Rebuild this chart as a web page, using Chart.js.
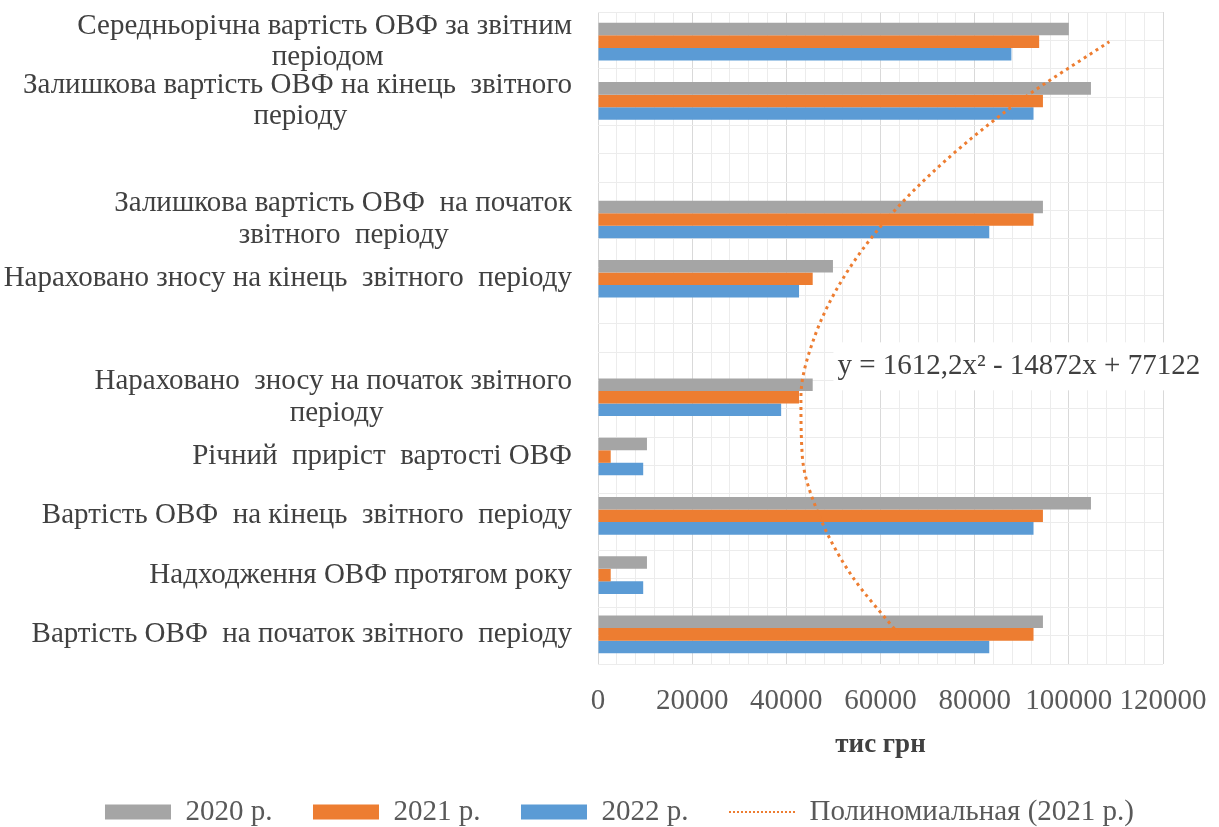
<!DOCTYPE html>
<html>
<head>
<meta charset="utf-8">
<script src="https://cdn.jsdelivr.net/npm/chart.js@4.4.1/dist/chart.umd.min.js"></script>
<style>
    html, body { margin: 0; padding: 0; background: #fff; }
    #wrap { width: 1219px; height: 827px; }
</style>
</head>
<body>
<div id="wrap"><canvas id="bar"></canvas></div>
<script>
// categories bottom-to-top, as in the Excel bar chart
const categories = [
    "Вартість ОВФ  на початок звітного  періоду",
    "Надходження ОВФ протягом року",
    "Вартість ОВФ  на кінець  звітного  періоду",
    "Річний  приріст  вартості ОВФ",
    ["Нараховано  зносу на початок звітного", "періоду"],
    "",
    "Нараховано зносу на кінець  звітного  періоду",
    ["Залишкова вартість ОВФ  на початок", "звітного  періоду"],
    "",
    ["Залишкова вартість ОВФ на кінець  звітного", "періоду"],
    ["Середньорічна вартість ОВФ за звітним", "періодом"],
];
const values2020 = [94500, 10400, 104700, 10400, 45600, null, 49900, 94500, null, 104700, 100000];
const values2021 = [92500, 2700, 94500, 2700, 42700, null, 45600, 92500, null, 94500, 93700];
const values2022 = [83100, 9600, 92500, 9600, 38900, null, 42700, 83100, null, 92500, 87800];
// polynomial trendline of 2021, read at each category
const trend2021 = [63900, 53800, 47000, 43400, 43100, 45900, 52000, 61300, 73900, 89600, 108600];
const seriesNames = ["2020 р.", "2021 р.", "2022 р.", "Полиномиальная (2021 р.)"];
const equation = "y = 1612,2x² - 14872x + 77122";
const xTicks = [0, 20000, 40000, 60000, 80000, 100000, 120000];

const FAMILY = "'Liberation Serif', 'Times New Roman', serif";
const SIZE = 29;

// second line of a two-line label is centred under the first one
const measure = document.createElement("canvas").getContext("2d");
measure.font = SIZE + "px " + FAMILY;
function centred(label) {
    if (!Array.isArray(label)) return label;
    const w0 = measure.measureText(label[0]).width;
    const w1 = measure.measureText(label[1]).width;
    const target = w1 + (w0 - w1) / 2;
    let second = label[1];
    while (measure.measureText(second + " ").width <= target) second += " ";
    return [label[0], second];
}

const equationLabel = {
    id: "equationLabel",
    afterDatasetsDraw(chart) {
        const { ctx } = chart;
        const x = chart.scales.x.getPixelForValue(50000);
        const y = chart.scales.yMinor.getPixelForValue(5.5);
        ctx.save();
        ctx.fillStyle = "#ffffff";
        ctx.fillRect(x, y - 24, 380, 48);
        ctx.font = SIZE + "px " + FAMILY;
        ctx.fillStyle = "#404040";
        ctx.textBaseline = "middle";
        ctx.textAlign = "left";
        ctx.fillText(equation, x + 4, y);
        ctx.restore();
    },
};

const bar = document.getElementById("bar");
const barConfig = new Chart(bar, {
    type: "bar",
    data: {
        labels: categories,
        datasets: [
            {
                label: seriesNames[0],
                data: values2020,
                backgroundColor: "#a5a5a5",
                borderWidth: 0,
                pointStyle: "rect",
                order: 1,
            },
            {
                label: seriesNames[1],
                data: values2021,
                backgroundColor: "#ed7d31",
                borderWidth: 0,
                pointStyle: "rect",
                order: 1,
            },
            {
                label: seriesNames[2],
                data: values2022,
                backgroundColor: "#5b9bd5",
                borderWidth: 0,
                pointStyle: "rect",
                order: 1,
            },
            {
                label: seriesNames[3],
                type: "line",
                indexAxis: "y",
                data: trend2021,
                borderColor: "#ed7d31",
                backgroundColor: "#ed7d31",
                borderWidth: 3,
                borderDash: [3, 4],
                cubicInterpolationMode: "monotone",
                pointRadius: 0,
                pointStyle: "line",
                fill: false,
                order: 0,
            },
        ],
    },
    options: {
        indexAxis: "y",
        responsive: true,
        maintainAspectRatio: false,
        animation: false,
        barPercentage: 1,
        categoryPercentage: 0.635,
        layout: {
            padding: { left: 0, right: -20, top: 12, bottom: -9.5 },
        },
        scales: {
            x: {
                type: "linear",
                min: 0,
                max: 120000,
                ticks: {
                    stepSize: 4000,
                    autoSkip: false,
                    maxRotation: 0,
                    padding: 20,
                    color: "#595959",
                    font: { family: FAMILY, size: SIZE },
                    callback: (v) => (xTicks.includes(v) ? String(v) : ""),
                },
                grid: {
                    color: (c) => (c.tick && xTicks.includes(c.tick.value) ? "#d9d9d9" : "#ececec"),
                    drawTicks: false,
                },
                border: { display: false },
                title: {
                    display: true,
                    text: "тис грн",
                    color: "#404040",
                    font: { family: FAMILY, size: 27, weight: "bold" },
                    padding: { top: 0, bottom: -4 },
                },
                afterFit: (s) => {
                    s.height = 93;
                    s.paddingLeft = 0;
                    s.paddingRight = 0;
                },
            },
            y: {
                type: "category",
                reverse: true,
                grid: { display: false },
                border: { display: false },
                ticks: {
                    padding: 18,
                    autoSkip: false,
                    color: "#404040",
                    font: { family: FAMILY, size: SIZE, lineHeight: 1.08 },
                    callback: function (value) {
                        return centred(categories[value]);
                    },
                },
                afterFit: (s) => {
                    s.width = 598;
                    s.paddingTop = 0;
                    s.paddingBottom = 0;
                },
            },
            yMinor: {
                type: "linear",
                position: "right",
                min: 0.5,
                max: 11.5,
                ticks: { display: false, stepSize: 0.5 },
                grid: { color: "#ececec", drawTicks: false },
                border: { display: false },
                afterFit: (s) => {
                    s.width = 76;
                },
            },
        },
        plugins: {
            legend: {
                position: "bottom",
                labels: {
                    usePointStyle: true,
                    pointStyleWidth: 66,
                    boxHeight: 15,
                    padding: 40.5,
                    color: "#595959",
                    font: { family: FAMILY, size: SIZE },
                    sort: (a, b) => a.datasetIndex - b.datasetIndex,
                    generateLabels: (chart) => {
                        const items = Chart.defaults.plugins.legend.labels.generateLabels(chart);
                        items.forEach((item) => {
                            if (item.pointStyle === "line") {
                                item.lineDash = [2, 2];
                                item.lineWidth = 2;
                                item.strokeStyle = "#ed7d31";
                            }
                        });
                        return items;
                    },
                },
            },
            tooltip: { enabled: false },
        },
    },
    plugins: [equationLabel],
});
</script>
</body>
</html>
